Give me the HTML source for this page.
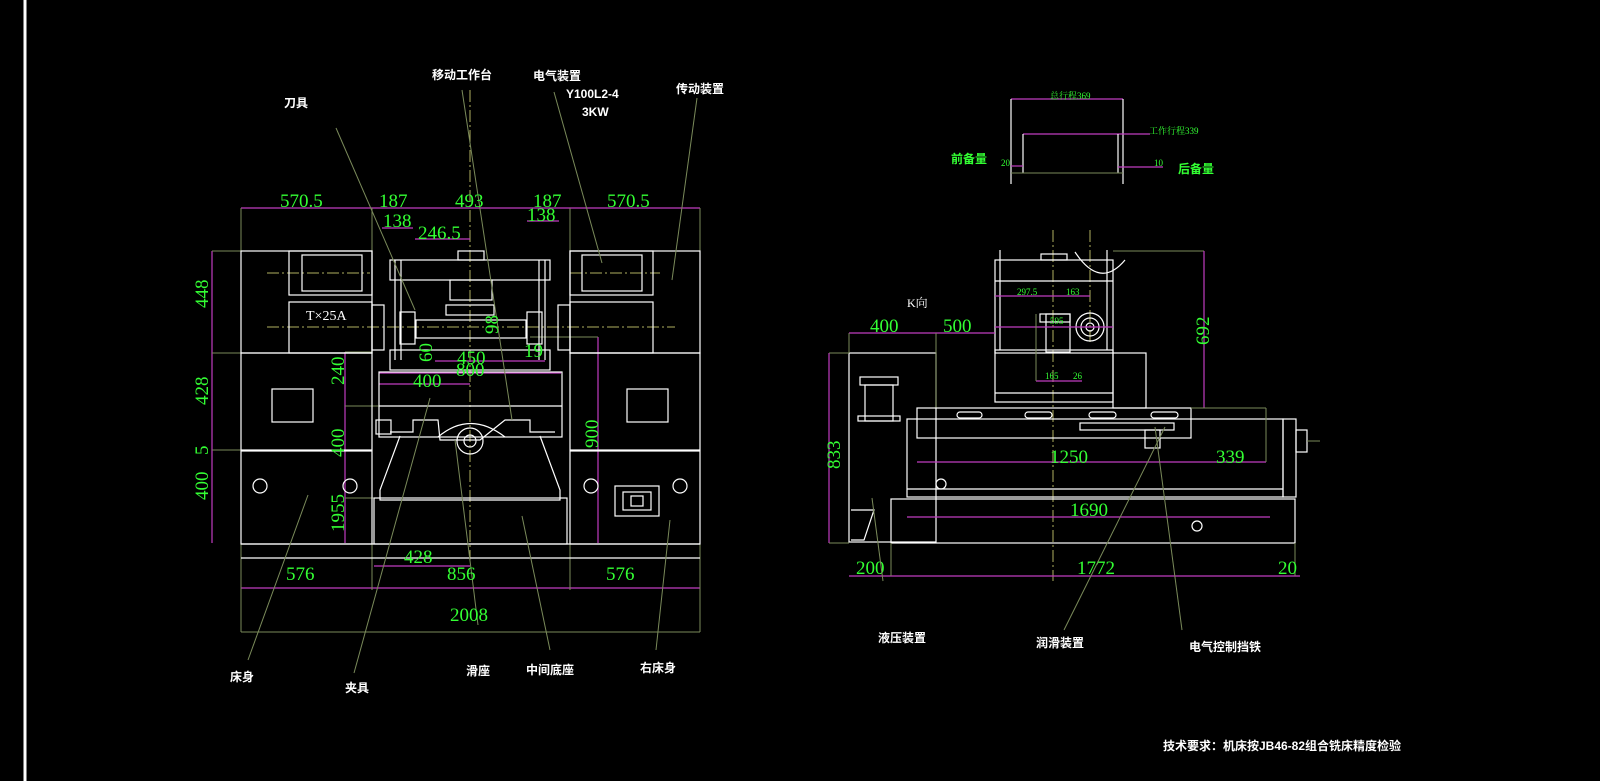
<!DOCTYPE html>
<html><head><meta charset="utf-8"><style>
html,body{margin:0;padding:0;background:#000;width:1600px;height:781px;overflow:hidden}
svg{display:block}
text{font-family:"Liberation Serif","Noto Serif CJK SC",serif}
.w{stroke:#fff;fill:none;stroke-width:1.2}
.m{stroke:#c03cc0;fill:none;stroke-width:1.2}
.g{stroke:#7a8a5a;fill:none;stroke-width:1}
.y{stroke:#b0b060;fill:none;stroke-width:1;stroke-dasharray:12 3 2 3}
.n{fill:#33ff33;font-size:19px}
.ns{fill:#33ff33;font-size:9px}
.l{fill:#fff;font-size:12px;font-weight:bold;font-family:"Liberation Sans","Noto Sans CJK SC",sans-serif}
.lg{fill:#33ff33;font-size:12px;font-weight:bold;font-family:"Liberation Sans","Noto Sans CJK SC",sans-serif}
</style></head><body>
<svg width="1600" height="781" viewBox="0 0 1600 781">
<line x1="25" y1="0" x2="25" y2="781" stroke="#fff" stroke-width="3"/>

<g>
<line class="y" x1="470" y1="90" x2="470" y2="560"/>
<line class="y" x1="267" y1="273" x2="370" y2="273"/>
<line class="y" x1="570" y1="273" x2="660" y2="273"/>
<line class="y" x1="267" y1="327" x2="675" y2="327"/>
<line class="m" x1="241" y1="208" x2="700" y2="208"/>
<line class="m" x1="212" y1="251" x2="212" y2="543"/>
<line class="m" x1="382" y1="228" x2="413" y2="228"/>
<line class="m" x1="415" y1="239" x2="470" y2="239"/>
<line class="m" x1="527" y1="221" x2="559" y2="221"/>
<line class="m" x1="345" y1="352" x2="345" y2="543"/>
<line class="m" x1="379" y1="373" x2="561" y2="373"/>
<line class="m" x1="379" y1="384" x2="470" y2="384"/>
<line class="m" x1="435" y1="361" x2="545" y2="361"/>
<line class="m" x1="598" y1="337" x2="598" y2="543"/>
<line class="m" x1="241" y1="588" x2="700" y2="588"/>
<line class="m" x1="374" y1="566" x2="470" y2="566"/>
<line class="g" x1="241" y1="208" x2="241" y2="632"/>
<line class="g" x1="700" y1="208" x2="700" y2="632"/>
<line class="g" x1="372" y1="208" x2="372" y2="590"/>
<line class="g" x1="570" y1="208" x2="570" y2="590"/>
<line class="g" x1="212" y1="251" x2="241" y2="251"/>
<line class="g" x1="212" y1="353" x2="241" y2="353"/>
<line class="g" x1="212" y1="450" x2="241" y2="450"/>
<line class="g" x1="345" y1="352" x2="372" y2="352"/>
<line class="g" x1="345" y1="406" x2="380" y2="406"/>
<line class="g" x1="345" y1="498" x2="380" y2="498"/>
<line class="g" x1="530" y1="337" x2="598" y2="337"/>
<line class="g" x1="241" y1="632" x2="700" y2="632"/>
<rect class="w" x="241" y="251" width="131" height="102"/>
<rect class="w" x="241" y="353" width="131" height="97"/>
<rect class="w" x="241" y="451" width="131" height="93"/>
<rect class="w" x="272" y="389" width="41" height="33"/>
<rect class="w" x="289" y="251" width="83" height="44"/>
<rect class="w" x="289" y="302" width="83" height="51"/>
<rect class="w" x="302" y="255" width="60" height="36"/>
<rect class="w" x="372" y="305" width="12" height="45"/>
<circle class="w" cx="260" cy="486" r="7"/><circle class="w" cx="350" cy="486" r="7"/>
<rect class="w" x="570" y="251" width="130" height="102"/>
<rect class="w" x="570" y="353" width="130" height="97"/>
<rect class="w" x="570" y="451" width="130" height="93"/>
<rect class="w" x="627" y="389" width="41" height="33"/>
<rect class="w" x="570" y="251" width="83" height="44"/>
<rect class="w" x="570" y="302" width="83" height="51"/>
<rect class="w" x="582" y="255" width="60" height="36"/>
<rect class="w" x="558" y="305" width="12" height="45"/>
<circle class="w" cx="591" cy="486" r="7"/><circle class="w" cx="680" cy="486" r="7"/>
<rect class="w" x="615" y="486" width="44" height="30"/>
<rect class="w" x="623" y="492" width="28" height="18"/>
<rect class="w" x="631" y="496" width="12" height="10"/>
<rect class="w" x="390" y="260" width="160" height="20"/>
<rect class="w" x="458" y="251" width="26" height="9"/>
<rect class="w" x="450" y="280" width="42" height="20"/>
<rect class="w" x="446" y="305" width="48" height="10"/>
<line class="w" x1="395" y1="260" x2="395" y2="360"/><line class="w" x1="401" y1="260" x2="401" y2="360"/>
<line class="w" x1="545" y1="260" x2="545" y2="360"/><line class="w" x1="539" y1="260" x2="539" y2="360"/>
<rect class="w" x="400" y="312" width="15" height="32"/><rect class="w" x="527" y="312" width="15" height="32"/>
<rect class="w" x="416" y="320" width="110" height="18" stroke="#f0d0a0"/>
<rect class="w" x="390" y="350" width="160" height="20"/>
<rect class="w" x="379" y="372" width="183" height="65"/>
<line class="w" x1="379" y1="406" x2="562" y2="406"/>
<path class="w" d="M390 432 L413 432 L413 420 L438 420 L440 440 L480 440 L505 420 L530 420 L530 432 L555 432"/>
<path class="w" d="M438 437 Q470 410 505 437"/>
<circle class="w" cx="470" cy="441" r="13"/><circle class="w" cx="470" cy="441" r="6"/>
<path class="w" d="M400 436 L380 490 L380 500 L560 500 L560 490 L540 436"/>
<rect class="w" x="374" y="498" width="193" height="46"/>
<line class="w" x1="241" y1="544" x2="700" y2="544"/>
<line class="w" x1="241" y1="558" x2="700" y2="558"/>
<rect class="w" x="376" y="420" width="15" height="14"/>
<g class="g">
<line x1="336" y1="128" x2="415" y2="310"/>
<line x1="462" y1="90" x2="512" y2="420"/>
<line x1="554" y1="92" x2="602" y2="263"/>
<line x1="697" y1="98" x2="672" y2="280"/>
<line x1="308" y1="495" x2="248" y2="660"/>
<line x1="430" y1="398" x2="354" y2="673"/>
<line x1="455" y1="440" x2="478" y2="625"/>
<line x1="522" y1="516" x2="550" y2="650"/>
<line x1="670" y1="520" x2="656" y2="650"/>
</g>
<text class="n" x="280" y="207">570.5</text>
<text class="n" x="379" y="207">187</text>
<text class="n" x="455" y="207">493</text>
<text class="n" x="533" y="207">187</text>
<text class="n" x="607" y="207">570.5</text>
<text class="n" x="383" y="227">138</text>
<text class="n" x="527" y="221">138</text>
<text class="n" x="418" y="239">246.5</text>
<text class="n" x="457" y="364">450</text>
<text class="n" x="456" y="376">800</text>
<text class="n" x="413" y="387">400</text>
<text class="n" x="524" y="357">19</text>
<text class="n" x="404" y="563">428</text>
<text class="n" x="447" y="580">856</text>
<text class="n" x="286" y="580">576</text>
<text class="n" x="606" y="580">576</text>
<text class="n" x="450" y="621">2008</text>
<g class="n">
<text transform="translate(208,308) rotate(-90)">448</text>
<text transform="translate(208,405) rotate(-90)">428</text>
<text transform="translate(208,455) rotate(-90)">5</text>
<text transform="translate(208,500) rotate(-90)">400</text>
<text transform="translate(344,385) rotate(-90)">240</text>
<text transform="translate(344,457) rotate(-90)">400</text>
<text transform="translate(344,532) rotate(-90)">1955</text>
<text transform="translate(598,448) rotate(-90)">900</text>
<text transform="translate(498,334) rotate(-90)">98</text>
<text transform="translate(432,362) rotate(-90)">60</text>
</g>
<text x="306" y="320" fill="#fff" font-size="14">T×25A</text>
<text class="l" x="284" y="107">刀具</text>
<text class="l" x="432" y="79">移动工作台</text>
<text class="l" x="533" y="80">电气装置</text>
<text class="l" x="566" y="98" font-family="Liberation Serif,serif">Y100L2-4</text>
<text class="l" x="582" y="116" font-family="Liberation Serif,serif">3KW</text>
<text class="l" x="676" y="93">传动装置</text>
<text class="l" x="230" y="681">床身</text>
<text class="l" x="345" y="692">夹具</text>
<text class="l" x="466" y="675">滑座</text>
<text class="l" x="526" y="674">中间底座</text>
<text class="l" x="640" y="672">右床身</text>
</g>

<g>
<line class="m" x1="1011" y1="99" x2="1123" y2="99"/>
<line class="w" x1="1011" y1="99" x2="1011" y2="184"/>
<line class="w" x1="1123" y1="99" x2="1123" y2="184"/>
<line class="m" x1="1023" y1="134" x2="1150" y2="134"/>
<line class="w" x1="1023" y1="134" x2="1023" y2="173"/>
<line class="w" x1="1118" y1="134" x2="1118" y2="173"/>
<line class="m" x1="1011" y1="166" x2="1023" y2="166"/>
<line class="m" x1="1118" y1="167" x2="1163" y2="167"/>
<line class="g" x1="1011" y1="173" x2="1123" y2="173"/>
<text class="ns" x="1050" y="99">总行程369</text>
<text class="ns" x="1149" y="134">工作行程339</text>
<text class="ns" x="1001" y="166">20</text>
<text class="ns" x="1154" y="166">10</text>
<text class="lg" x="951" y="163">前备量</text>
<text class="lg" x="1178" y="173">后备量</text>

<line class="y" x1="1053" y1="230" x2="1053" y2="581"/>
<line class="y" x1="1090" y1="230" x2="1090" y2="345"/>
<rect class="w" x="995" y="260" width="118" height="93"/>
<line class="w" x1="995" y1="281" x2="1113" y2="281"/>
<rect class="w" x="1041" y="254" width="26" height="6"/>
<line class="w" x1="1000" y1="250" x2="1000" y2="350"/><line class="w" x1="1107" y1="250" x2="1107" y2="350"/>
<rect class="w" x="1046" y="314" width="24" height="38"/>
<rect class="w" x="1040" y="314" width="30" height="8" />
<circle class="w" cx="1090" cy="327" r="14"/><circle class="w" cx="1090" cy="327" r="9"/><circle class="w" cx="1090" cy="327" r="4"/>
<path class="w" d="M1075 252 Q1100 290 1125 260"/>
<rect class="w" x="995" y="350" width="118" height="52"/>
<line class="w" x1="995" y1="393" x2="1113" y2="393"/>
<rect class="w" x="1113" y="353" width="33" height="55"/>
<line class="m" x1="995" y1="296" x2="1090" y2="296"/>
<line class="m" x1="995" y1="327" x2="1113" y2="327"/>
<line class="m" x1="1036" y1="381" x2="1082" y2="381"/>
<line class="g" x1="1113" y1="251" x2="1204" y2="251"/>
<line class="m" x1="1204" y1="251" x2="1204" y2="408"/>
<line class="g" x1="1036" y1="314" x2="1036" y2="381"/>
<text class="ns" x="1017" y="295">297.5</text>
<text class="ns" x="1066" y="295">163</text>
<text class="ns" x="1050" y="324">595</text>
<text class="ns" x="1045" y="379">165</text>
<text class="ns" x="1073" y="379">26</text>
<text class="n" transform="translate(1209,345) rotate(-90)">692</text>
<rect class="w" x="849" y="353" width="87" height="189"/>
<line class="m" x1="849" y1="333" x2="995" y2="333"/>
<line class="g" x1="849" y1="333" x2="849" y2="353"/>
<line class="g" x1="936" y1="333" x2="936" y2="408"/>
<rect class="w" x="860" y="377" width="38" height="8"/>
<rect class="w" x="865" y="385" width="28" height="36"/>
<rect class="w" x="858" y="416" width="42" height="5"/>
<path class="w" d="M851 510 L874 510 L864 540 L851 540"/>
<line class="m" x1="829" y1="353" x2="829" y2="543"/>
<line class="g" x1="829" y1="353" x2="849" y2="353"/>
<line class="g" x1="829" y1="543" x2="849" y2="543"/>
<text class="n" transform="translate(840,469) rotate(-90)">833</text>
<text class="n" x="870" y="332">400</text>
<text class="n" x="943" y="332">500</text>
<text x="907" y="307" fill="#fff" font-size="12">K向</text>
<rect class="w" x="917" y="408" width="274" height="30"/>
<rect class="w" x="957" y="412" width="25" height="6" rx="3"/>
<rect class="w" x="1025" y="412" width="27" height="6" rx="3"/>
<rect class="w" x="1089" y="412" width="27" height="6" rx="3"/>
<rect class="w" x="1151" y="412" width="27" height="6" rx="3"/>
<rect class="w" x="1080" y="423" width="94" height="7"/>
<rect class="w" x="1145" y="430" width="15" height="18"/>
<rect class="w" x="907" y="419" width="376" height="78"/>
<line class="w" x1="907" y1="489" x2="1283" y2="489"/>
<rect class="w" x="1283" y="419" width="13" height="78"/>
<rect class="w" x="1296" y="430" width="11" height="22"/>
<circle class="w" cx="941" cy="484" r="5"/>
<line class="m" x1="917" y1="462" x2="1266" y2="462"/>
<line class="g" x1="1266" y1="408" x2="1266" y2="462"/>
<line class="g" x1="1191" y1="408" x2="1266" y2="408"/>
<line class="g" x1="1307" y1="441" x2="1320" y2="441"/>
<text class="n" x="1050" y="463">1250</text>
<text class="n" x="1216" y="463">339</text>
<rect class="w" x="891" y="499" width="404" height="44"/>
<line class="m" x1="907" y1="517" x2="1270" y2="517"/>
<line class="m" x1="849" y1="576" x2="1300" y2="576"/>
<line class="g" x1="891" y1="543" x2="891" y2="576"/>
<line class="g" x1="1295" y1="543" x2="1295" y2="576"/>
<text class="n" x="1070" y="516">1690</text>
<text class="n" x="856" y="574">200</text>
<text class="n" x="1077" y="574">1772</text>
<text class="n" x="1278" y="574">20</text>
<circle class="w" cx="1197" cy="526" r="5"/>
<line class="g" x1="872" y1="498" x2="883" y2="581"/>
<line class="g" x1="1165" y1="427" x2="1064" y2="630"/>
<line class="g" x1="1155" y1="427" x2="1182" y2="630"/>
<text class="l" x="878" y="642">液压装置</text>
<text class="l" x="1036" y="647">润滑装置</text>
<text class="l" x="1189" y="651">电气控制挡铁</text>
</g>
<text class="l" x="1163" y="750">技术要求：机床按JB46-82组合铣床精度检验</text>
</svg>
</body></html>
